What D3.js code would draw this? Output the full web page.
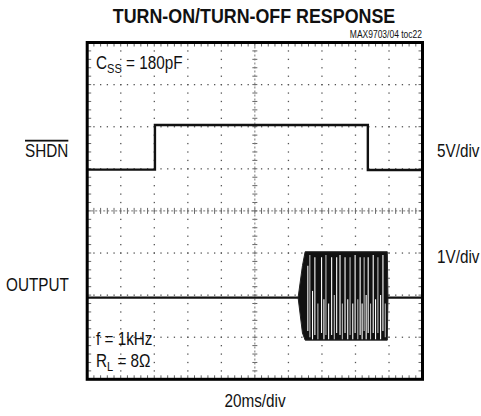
<!DOCTYPE html>
<html>
<head>
<meta charset="utf-8">
<script src="https://cdn.jsdelivr.net/npm/d3@7"></script>
<style>
  body { margin: 0; background: #fff; }
  text { font-family: "Liberation Sans", Arial, sans-serif; fill: #111; }
</style>
</head>
<body>
<script>
const outerWidth = 481;
const outerHeight = 416;
const margin = { left: 87.2, top: 42.5, right: 58.5, bottom: 36.7 };
const innerWidth = outerWidth - margin.left - margin.right;
const innerHeight = outerHeight - margin.top - margin.bottom;
const narrow = 0.85;

// time in divisions (20ms/div), level in divisions from screen centre
const timeDivs = [0, 1, 2, 3, 4, 5, 6, 7, 8, 9, 10];
const levelDivs = [-4, -3, -2, -1, 0, 1, 2, 3, 4];

// SHDN trace (5V/div)
const shdnTime = [0, 2.02, 2.02, 8.37, 8.37, 10];
const shdnLevel = [0.98, 0.98, 2.04, 2.04, 0.97, 0.97];

// OUTPUT trace (1V/div) outside the burst
const outTime = [0, 6.29, 8.97, 10];
const outLevel = [-2.06, -2.06, -2.06, -2.06];

// burst envelope
const burstTime = [6.29, 6.42, 6.5, 8.95, 8.97];
const burstHigh = [-2.06, -1.3, -0.97, -0.97, -2.06];
const burstLow = [-2.06, -2.9, -3.07, -3.07, -2.06];

// gaps between the aliased cycles
const gapTime = [6.58, 6.64, 6.72, 6.79, 6.88, 6.99, 7.06, 7.12, 7.2, 7.29, 7.37, 7.44, 7.54, 7.61, 7.69, 7.77, 7.84, 7.92, 7.99, 8.07, 8.14, 8.2, 8.26, 8.32, 8.38, 8.45, 8.53, 8.6, 8.67, 8.75, 8.82, 8.89];
const gapTop = [-1.3, -1.05, -1.9, -1.1, -2.2, -1.1, -2.1, -1.05, -2.2, -1.1, -2.0, -1.1, -1.05, -2.2, -1.1, -2.1, -1.1, -2.2, -1.05, -2.1, -1.1, -2.2, -1.1, -2.0, -1.1, -2.2, -1.05, -2.1, -1.1, -2.0, -1.05, -2.2];
const gapBottom = [-2.85, -3.0, -3.05, -2.95, -3.05, -2.9, -3.05, -2.95, -3.05, -2.95, -3.05, -2.9, -2.95, -3.05, -2.9, -3.05, -2.95, -3.05, -2.9, -3.05, -2.95, -3.05, -2.85, -3.05, -2.9, -3.05, -2.9, -3.05, -2.9, -3.05, -2.85, -3.0];

const svg = d3.select("body").append("svg")
  .attr("width", outerWidth)
  .attr("height", outerHeight);

const g = svg.append("g")
  .attr("transform", `translate(${margin.left}, ${margin.top})`);

const xScale = d3.scaleLinear().domain([0, 10]).range([0, innerWidth]);
const yScale = d3.scaleLinear().domain([-4, 4]).range([innerHeight, 0]);

// graticule: dotted grid lines
const minorX = d3.range(0, 10.01, 0.2);
const minorY = d3.range(-4, 4.01, 0.2);

timeDivs.slice(1, -1).filter(d => d !== 5).forEach(t => {
  g.append("g").selectAll("rect").data(minorY).join("rect")
    .attr("x", xScale(t) - 0.6)
    .attr("y", d => yScale(d) - 0.6)
    .attr("width", 1.3)
    .attr("height", 1.3)
    .attr("fill", "#555");
});
levelDivs.slice(1, -1).filter(d => d !== 0).forEach(v => {
  g.append("g").selectAll("rect").data(minorX).join("rect")
    .attr("x", d => xScale(d) - 0.6)
    .attr("y", yScale(v) - 0.6)
    .attr("width", 1.3)
    .attr("height", 1.3)
    .attr("fill", "#555");
});

// centre cross with minor ticks
g.append("g").selectAll("line").data(minorX).join("line")
  .attr("x1", d => xScale(d)).attr("x2", d => xScale(d))
  .attr("y1", yScale(0) - 3).attr("y2", yScale(0) + 3)
  .attr("stroke", "#666").attr("stroke-width", 1);
g.append("line")
  .attr("x1", 0).attr("x2", innerWidth)
  .attr("y1", yScale(0)).attr("y2", yScale(0))
  .attr("stroke", "#777").attr("stroke-width", 1).attr("stroke-dasharray", "2,2");
g.append("g").selectAll("line").data(minorY).join("line")
  .attr("x1", xScale(5) - 2.5).attr("x2", xScale(5) + 2.5)
  .attr("y1", d => yScale(d)).attr("y2", d => yScale(d))
  .attr("stroke", "#666").attr("stroke-width", 1);
g.append("line")
  .attr("x1", xScale(5)).attr("x2", xScale(5))
  .attr("y1", 0).attr("y2", innerHeight)
  .attr("stroke", "#777").attr("stroke-width", 1).attr("stroke-dasharray", "2,2");

// border minor ticks
g.append("g").selectAll("line").data(minorX).join("line")
  .attr("x1", d => xScale(d)).attr("x2", d => xScale(d))
  .attr("y1", 0).attr("y2", 4)
  .attr("stroke", "#666");
g.append("g").selectAll("line").data(minorX).join("line")
  .attr("x1", d => xScale(d)).attr("x2", d => xScale(d))
  .attr("y1", innerHeight - 4).attr("y2", innerHeight)
  .attr("stroke", "#666");
g.append("g").selectAll("line").data(minorY).join("line")
  .attr("x1", 0).attr("x2", 4)
  .attr("y1", d => yScale(d)).attr("y2", d => yScale(d))
  .attr("stroke", "#666");
g.append("g").selectAll("line").data(minorY).join("line")
  .attr("x1", innerWidth - 4).attr("x2", innerWidth)
  .attr("y1", d => yScale(d)).attr("y2", d => yScale(d))
  .attr("stroke", "#666");

const line = d3.line()
  .x(d => xScale(d[0]))
  .y(d => yScale(d[1]));

// SHDN trace
g.append("path")
  .datum(d3.zip(shdnTime, shdnLevel))
  .attr("d", line)
  .attr("fill", "none")
  .attr("stroke", "#111")
  .attr("stroke-width", 2.4);

// OUTPUT baseline
g.append("path")
  .datum(d3.zip(outTime, outLevel))
  .attr("d", line)
  .attr("fill", "none")
  .attr("stroke", "#111")
  .attr("stroke-width", 2.2);

// burst envelope
const area = d3.area()
  .x(d => xScale(d[0]))
  .y0(d => yScale(d[2]))
  .y1(d => yScale(d[1]));
g.append("path")
  .datum(d3.zip(burstTime, burstHigh, burstLow))
  .attr("d", area)
  .attr("fill", "#111")
  .attr("stroke", "#222")
  .attr("stroke-width", 1);

// gaps
g.append("g").selectAll("line").data(d3.zip(gapTime, gapTop, gapBottom)).join("line")
  .attr("x1", d => xScale(d[0])).attr("x2", d => xScale(d[0]))
  .attr("y1", d => yScale(d[1])).attr("y2", d => yScale(d[2]))
  .attr("stroke", (d, i) => i % 3 === 1 ? "#bbb" : "#fff")
  .attr("stroke-width", 1.1);

// frame
g.append("rect")
  .attr("width", innerWidth)
  .attr("height", innerHeight)
  .attr("fill", "none")
  .attr("stroke", "#000")
  .attr("stroke-width", 3);

// texts, squeezed to look like the narrow face of the original
const label = (x, y, size, anchor = "start") => svg.append("g")
    .attr("transform", `translate(${x}, ${y}) scale(${narrow}, 1)`)
  .append("text")
    .attr("text-anchor", anchor)
    .style("font-size", `${size}px`);

label(254, 23, 21, "middle")
  .style("font-weight", "bold")
  .text("TURN-ON/TURN-OFF RESPONSE");

label(422, 38, 10, "end").text("MAX9703/04 toc22");

const css = label(96, 69, 18);
css.append("tspan").text("C");
css.append("tspan").attr("dy", 4).style("font-size", "13px").text("SS");
css.append("tspan").attr("dy", -4).text(" = 180pF");

label(25, 157, 18)
  .style("text-decoration", "overline")
  .text("SHDN");

label(437, 157, 18).text("5V/div");
label(437, 263, 18).text("1V/div");
label(6, 291, 18).text("OUTPUT");

label(96, 345, 18).text("f = 1kHz");
const rl = label(96, 367, 18);
rl.append("tspan").text("R");
rl.append("tspan").attr("dy", 4).style("font-size", "13px").text("L");
rl.append("tspan").attr("dy", -4).text(" = 8Ω");

label(255, 407, 18, "middle").text("20ms/div");
</script>
</body>
</html>
